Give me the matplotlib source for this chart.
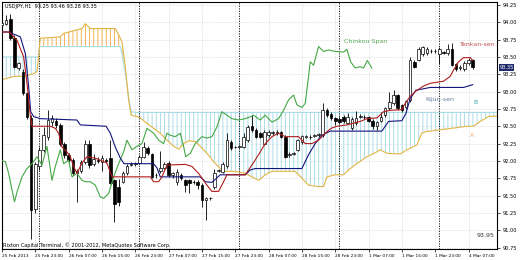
import numpy as np
import matplotlib
matplotlib.use("Agg")
from matplotlib import pyplot as plt

# USDJPY H1, bar 0 = 25 Feb 2013 15:00
opens = [93.96, 93.98, 94.05, 93.78, 93.34, 93.29, 92.98, 92.62, 91.30, 91.92,
         92.16, 92.35, 92.56, 92.58, 92.52, 92.25, 92.08, 92.02, 91.82, 91.86,
         91.98, 92.25, 91.96, 92.02, 91.98, 92.01, 92.04, 91.72, 91.62, 91.70,
         91.82, 91.94, 91.96, 91.97, 92.06, 92.18, 92.10, 91.79, 91.85, 91.90,
         91.97, 91.79, 91.70, 91.79, 91.72, 91.72, 91.70, 91.70, 91.65, 91.43,
         91.46, 91.62, 91.86, 91.84, 91.92, 92.28, 92.20, 92.20, 92.20, 92.30,
         92.50, 92.44, 92.40, 92.25, 92.37, 92.40, 92.40, 92.41, 92.35, 92.08,
         92.10, 92.16, 92.28, 92.35, 92.34, 92.36, 92.37, 92.37, 92.73, 92.68,
         92.62, 92.61, 92.64, 92.55, 92.47, 92.55, 92.64, 92.63, 92.63, 92.58,
         92.50, 92.58, 92.66, 92.76, 92.83, 92.95, 92.80, 92.78, 92.88, 93.43,
         93.46, 93.54, 93.55, 93.58, 93.58, 93.54, 93.57, 93.55, 93.62, 93.40,
         93.34, 93.32, 93.41, 93.45]
highs = [94.02, 94.10, 94.12, 93.82, 93.43, 93.33, 93.00, 92.66, 91.99, 92.20,
         92.49, 92.73, 92.66, 92.62, 92.54, 92.28, 92.11, 92.04, 91.88, 92.02,
         92.30, 92.30, 92.10, 92.05, 92.08, 92.04, 92.30, 91.74, 91.74, 91.85,
         91.96, 91.98, 91.99, 92.08, 92.28, 92.22, 92.12, 91.83, 92.14, 91.98,
         92.00, 91.84, 91.89, 91.82, 91.74, 91.74, 91.72, 91.72, 91.68, 91.48,
         91.48, 91.89, 91.89, 91.98, 92.40, 92.30, 92.22, 92.23, 92.40, 92.52,
         92.66, 92.47, 92.42, 92.45, 92.44, 92.43, 92.44, 92.43, 92.37, 92.13,
         92.13, 92.32, 92.38, 92.38, 92.37, 92.39, 92.40, 92.83, 92.77, 92.70,
         92.64, 92.63, 92.66, 92.69, 92.63, 92.72, 92.67, 92.66, 92.65, 92.60,
         92.58, 92.71, 92.78, 92.99, 93.02, 92.97, 92.82, 92.88, 93.50, 93.45,
         93.65, 93.66, 93.64, 93.61, 93.62, 93.64, 93.59, 93.68, 93.70, 93.42,
         93.38, 93.44, 93.48, 93.47]
lows = [93.94, 93.96, 93.75, 93.34, 93.31, 92.95, 92.60, 90.88, 91.25, 91.87,
        92.13, 92.30, 92.50, 92.48, 92.22, 92.04, 91.98, 91.80, 91.40, 91.82,
        91.95, 91.90, 91.93, 91.97, 91.85, 91.97, 91.67, 91.12, 91.35, 91.68,
        91.80, 91.92, 91.93, 91.95, 92.04, 92.08, 91.75, 91.76, 91.83, 91.88,
        91.77, 91.76, 91.65, 91.72, 91.55, 91.53, 91.66, 91.60, 91.34, 91.15,
        91.44, 91.60, 91.84, 91.82, 91.90, 92.16, 92.18, 92.18, 92.18, 92.28,
        92.42, 92.33, 92.33, 92.23, 92.35, 92.38, 92.38, 92.33, 92.04, 92.06,
        92.08, 92.14, 92.25, 92.33, 92.32, 92.34, 92.35, 92.35, 92.64, 92.59,
        92.52, 92.54, 92.55, 92.53, 92.45, 92.52, 92.62, 92.61, 92.56, 92.46,
        92.44, 92.56, 92.64, 92.74, 92.81, 92.74, 92.70, 92.75, 92.85, 93.34,
        93.44, 93.52, 93.53, 93.56, 93.55, 93.40, 93.54, 93.53, 93.37, 93.30,
        93.31, 93.30, 93.39, 93.33]
closes = [93.99, 94.04, 93.77, 93.36, 93.41, 92.98, 92.64, 91.29, 91.96, 92.16,
          92.37, 92.59, 92.62, 92.52, 92.25, 92.08, 92.02, 91.82, 91.85, 91.98,
          92.25, 91.94, 92.03, 92.00, 92.04, 92.00, 91.68, 91.38, 91.40, 91.82,
          91.92, 91.96, 91.97, 92.05, 92.20, 92.11, 91.77, 91.80, 91.90, 91.95,
          91.80, 91.82, 91.84, 91.75, 91.65, 91.68, 91.69, 91.65, 91.43, 91.46,
          91.46, 91.82, 91.87, 91.96, 92.30, 92.18, 92.20, 92.21, 92.35, 92.49,
          92.44, 92.35, 92.35, 92.42, 92.42, 92.41, 92.42, 92.35, 92.06, 92.10,
          92.11, 92.30, 92.36, 92.36, 92.35, 92.37, 92.39, 92.73, 92.66, 92.62,
          92.57, 92.56, 92.57, 92.63, 92.61, 92.62, 92.65, 92.64, 92.58, 92.50,
          92.56, 92.64, 92.76, 92.85, 92.95, 92.76, 92.73, 92.86, 93.45, 93.36,
          93.62, 93.65, 93.62, 93.58, 93.58, 93.62, 93.56, 93.62, 93.39, 93.33,
          93.35, 93.42, 93.46, 93.35]

# ichimoku lines, read as (bar, price) vertices
tenkan_x = [-0.4, 1.8, 3.6, 5.2, 6.0, 6.8, 7.2, 11.6, 12.8, 13.6, 14.4, 15.6, 16.4,
            17.2, 18.0, 19.2, 20.4, 22.4, 23.6, 25.2, 26.4, 35.6, 36.4, 37.6, 38.4,
            39.6, 44.0, 45.6, 47.2, 49.2, 50.4, 52.0, 53.2, 54.0, 58.4, 60.0, 61.6,
            63.2, 64.8, 66.4, 68.0, 71.2, 72.8, 74.4, 76.0, 77.6, 79.0, 80.4, 82.8,
            86.0, 87.6, 90.0, 91.6, 93.2, 96.0, 96.8, 98.0, 99.4, 101.2, 102.8,
            106.0, 107.6, 108.4, 109.6, 110.8, 112.4, 113.0]
tenkan_y = [93.86, 93.86, 93.74, 93.50, 93.12, 92.66, 92.50, 92.50, 92.47, 92.40,
            92.20, 92.13, 92.06, 91.92, 91.82, 91.97, 92.06, 92.04, 92.01, 91.97,
            91.77, 91.77, 91.70, 91.70, 91.77, 91.94, 91.95, 91.92, 91.82, 91.65,
            91.56, 91.56, 91.70, 91.80, 91.80, 91.94, 92.09, 92.25, 92.35, 92.40,
            92.35, 92.35, 92.25, 92.25, 92.30, 92.40, 92.47, 92.50, 92.52, 92.57,
            92.61, 92.62, 92.71, 92.73, 92.74, 92.83, 92.93, 93.01, 93.08, 93.12,
            93.15, 93.22, 93.31, 93.43, 93.49, 93.49, 93.45]
kijun_x = [-0.4, 1.6, 4.4, 5.6, 6.4, 6.9, 7.6, 9.2, 18.0, 18.8, 25.0, 26.0, 27.2,
           28.4, 29.3, 36.4, 37.2, 38.0, 47.6, 48.8, 50.4, 52.4, 58.4, 59.6, 60.8,
           72.0, 73.6, 75.2, 76.8, 78.8, 91.2, 92.8, 96.0, 97.0, 98.0, 99.4, 102.8,
           110.8, 113.0]
kijun_y = [93.86, 93.86, 93.79, 93.55, 93.07, 92.71, 92.64, 92.61, 92.59, 92.52,
           92.50, 92.40, 92.20, 92.04, 91.96, 91.96, 91.90, 91.77, 91.77, 91.70,
           91.69, 91.80, 91.80, 91.87, 91.89, 91.89, 92.09, 92.25, 92.37, 92.43,
           92.43, 92.57, 92.58, 92.69, 92.90, 93.02, 93.06, 93.06, 93.10]
chikou_x = [-0.4, 0.8, 1.6, 2.4, 3.0, 3.6, 4.8, 6.0, 7.2, 8.4, 9.6, 10.8, 12.0,
            12.8, 14.0, 14.8, 16.0, 16.8, 18.0, 19.2, 20.0, 21.2, 22.4, 23.6, 24.4,
            25.6, 26.8, 28.0, 29.2, 30.0, 31.2, 32.4, 33.6, 34.8, 36.4, 37.6, 38.8,
            39.6, 40.4, 41.6, 42.8, 43.6, 44.1, 45.2, 46.4, 47.2, 48.0, 49.2, 50.4,
            51.6, 52.8, 54.0, 55.2, 56.8, 58.4, 59.8, 60.4, 62.0, 63.2, 64.8, 66.4,
            67.6, 68.8, 70.0, 70.8, 72.0, 72.8, 73.6, 74.0, 74.8, 76.0, 77.2, 78.4,
            80.0, 82.0, 82.8, 83.7, 84.8, 86.0, 86.8, 87.7, 88.8]
chikou_y = [92.01, 91.99, 91.82, 91.58, 91.41, 91.55, 91.77, 91.89, 91.96, 92.06,
            91.94, 92.21, 91.72, 91.92, 92.16, 91.96, 92.01, 91.77, 91.82, 91.72,
            91.70, 91.70, 91.65, 91.48, 91.46, 91.53, 91.77, 91.96, 92.13, 92.30,
            92.16, 92.21, 92.25, 92.47, 92.40, 92.30, 92.25, 92.40, 92.37, 92.35,
            92.40, 92.21, 92.06, 92.11, 92.25, 92.30, 92.35, 92.33, 92.35, 92.49,
            92.71, 92.66, 92.61, 92.59, 92.61, 92.64, 92.66, 92.59, 92.66, 92.56,
            92.61, 92.73, 92.88, 92.95, 92.81, 92.77, 92.83, 93.22, 93.43, 93.38,
            93.65, 93.58, 93.60, 93.58, 93.57, 93.61, 93.43, 93.34, 93.36, 93.34,
            93.45, 93.34]
senkou_x = [-0.4, 1.2, 2.8, 5.2, 7.6, 8.4, 8.7, 9.0, 9.2, 14.0,
            14.8, 19.2, 20.0, 21.2, 27.2, 28.0, 28.4, 28.8, 29.6, 30.4,
            31.0, 32.4, 33.2, 34.8, 36.4, 38.0, 39.6, 41.2, 42.4, 43.6,
            44.8, 46.4, 47.6, 49.2, 50.8, 52.4, 53.6, 56.0, 58.4, 60.0,
            61.6, 63.2, 64.8, 70.4, 72.0, 73.6, 76.0, 77.2, 78.0, 80.0,
            82.0, 83.2, 85.2, 87.6, 90.0, 90.8, 92.4, 95.6, 97.2, 99.6,
            100.8, 101.6, 105.2, 109.2, 111.6, 113.2, 114.8, 116.8, 118.9]
span_a = [93.17, 93.19, 93.22, 93.22, 93.26, 93.29, 93.45, 93.65, 93.77, 93.79,
          93.84, 93.91, 93.98, 93.91, 93.91, 93.82, 93.77, 93.72, 93.36, 92.88,
          92.66, 92.64, 92.62, 92.54, 92.47, 92.40, 92.30, 92.21, 92.17, 92.25,
          92.29, 92.28, 92.21, 92.11, 91.99, 91.89, 91.85, 91.85, 91.82, 91.77,
          91.72, 91.80, 91.85, 91.85, 91.75, 91.65, 91.63, 91.63, 91.77, 91.80,
          91.80, 91.87, 91.96, 92.06, 92.13, 92.16, 92.11, 92.10, 92.16, 92.23,
          92.40, 92.42, 92.45, 92.48, 92.50, 92.50, 92.57, 92.64, 92.65]
span_b = [93.50, 93.50, 93.50, 93.50, 93.50, 93.50, 93.50, 93.65, 93.65, 93.65,
          93.65, 93.65, 93.65, 93.65, 93.65, 93.65, 93.65, 93.55, 93.27, 92.92,
          92.71, 92.70, 92.70, 92.70, 92.70, 92.70, 92.70, 92.70, 92.70, 92.70,
          92.70, 92.70, 92.70, 92.70, 92.70, 92.70, 92.70, 92.70, 92.70, 92.70,
          92.70, 92.70, 92.70, 92.70, 92.70, 92.70, 92.70, 92.70, 92.70, 92.70,
          92.70, 92.70, 92.70, 92.70, 92.70, 92.70, 92.70, 92.70, 92.70, 92.70,
          92.70, 92.70, 92.70, 92.70, 92.70, 92.70, 92.70, 92.70, 92.70]

time_ticks = [0, 8, 16, 24, 32, 40, 48, 56, 64, 72, 80, 88, 96, 104, 112]
time_labels = ["25 Feb 2013", "25 Feb 23:00", "26 Feb 07:00", "26 Feb 15:00",
               "26 Feb 23:00", "27 Feb 07:00", "27 Feb 15:00", "27 Feb 23:00",
               "28 Feb 07:00", "28 Feb 15:00", "28 Feb 23:00", "1 Mar 07:00",
               "1 Mar 15:00", "1 Mar 23:00", "4 Mar 07:00"]
day_starts = [9, 33, 57, 81, 105]
price_ticks = [90.75, 91.00, 91.25, 91.50, 91.75, 92.00, 92.25, 92.50, 92.75,
               93.00, 93.25, 93.50, 93.75, 94.00, 94.25]
last_price = 93.35

# --------------------------------------------
plt.rcParams['hatch.linewidth'] = 0.6
fs = 3.6

fig = plt.figure(figsize=(5.2, 2.6), dpi=100)
ax = fig.add_axes([2/520, 11/260, 495/520, 247/260])
ax.set_xlim(0.05, 118.84)
ax.set_ylim(90.729, 94.293)

# grid + day separators
ax.set_axisbelow(True)
ax.grid(True, color='#cccccc', linestyle=(0, (1, 1.5)), linewidth=0.5)
for d in day_starts:
    ax.axvline(d, color='black', linestyle=(0, (1.5, 1.5)), linewidth=0.6, zorder=1.5)

# kumo
sx = np.array(senkou_x)
a = np.array(span_a)
b = np.array(span_b)
ax.fill_between(sx, a, b, where=a >= b, interpolate=True, facecolor='none',
                edgecolor='#f2a93b', hatch='||||', linewidth=0, zorder=1)
ax.fill_between(sx, a, b, where=a < b, interpolate=True, facecolor='none',
                edgecolor='#9fd8e4', hatch='||||', linewidth=0, zorder=1)
ax.plot(sx, b, color='#a8dce6', linewidth=0.8, zorder=2)
ax.plot(sx, a, color='#e3b545', linewidth=0.8, zorder=2)

# candles
o = np.array(opens)
h = np.array(highs)
l = np.array(lows)
c = np.array(closes)
idx = np.arange(len(o))
up = c >= o
ax.vlines(idx, l, h, color='black', linewidth=0.6, zorder=4)
ax.bar(idx[up], (c - o)[up], bottom=o[up], width=0.62, color='white',
       edgecolor='black', linewidth=0.5, zorder=5)
ax.bar(idx[~up], (o - c)[~up], bottom=c[~up], width=0.62, color='black',
       edgecolor='black', linewidth=0.5, zorder=5)

# lines
ax.plot(chikou_x, chikou_y, color='#45a845', linewidth=0.8, zorder=6)
ax.plot(kijun_x, kijun_y, color='#14147e', linewidth=0.8, zorder=6)
ax.plot(tenkan_x, tenkan_y, color='#b01c1c', linewidth=0.8, zorder=6)

# axes styling
for s in ax.spines.values():
    s.set_color('black')
    s.set_linewidth(0.8)
ax.yaxis.tick_right()
ax.set_yticks(price_ticks)
ax.set_yticklabels(["%.2f" % p for p in price_ticks])
ax.set_xticks(time_ticks)
ax.set_xticklabels(time_labels, ha='left')
ax.tick_params(axis='both', labelsize=fs, length=2.5, width=0.5, pad=1.2, colors='black')
ax.tick_params(axis='x', labelsize=3.1)

# labels in the chart
lab = 4.5
ax.text(87.4, 93.72, "Chinkou Span", color='#55a855', fontsize=lab, ha='center', va='center')
ax.text(114.2, 93.68, "Tenkan-sen", color='#c0504d', fontsize=lab, ha='center', va='center')
ax.text(105.2, 92.89, "Kijun-sen", color='#6a7aa0', fontsize=lab, ha='center', va='center')
ax.text(113.7, 92.84, "B", color='#3aa6a6', fontsize=lab, ha='center', va='center')
ax.text(112.8, 92.37, "A", color='#e8a878', fontsize=lab, ha='center', va='center')
ax.text(116.0, 90.93, "93.95", color='#333333', fontsize=4.5, ha='center', va='center')

ax.text(0.006, 0.99, "USDJPY,H1  93.25 93.46 93.28 93.35", transform=ax.transAxes,
        fontsize=fs, ha='left', va='top', color='black')
ax.text(0.003, 0.006, "Rixton Capital Terminal, \u00a9 2001-2012, MetaQuotes Software Corp.",
        transform=ax.transAxes, fontsize=fs, ha='left', va='bottom', color='black')

# current price box
ax.text(1.005, last_price, "%.2f" % last_price, transform=ax.get_yaxis_transform(),
        fontsize=fs, color='white', ha='left', va='center',
        bbox=dict(boxstyle='square,pad=0.15', fc='#1f2a6b', ec='none'))

fig.savefig("out.png", dpi=100)
